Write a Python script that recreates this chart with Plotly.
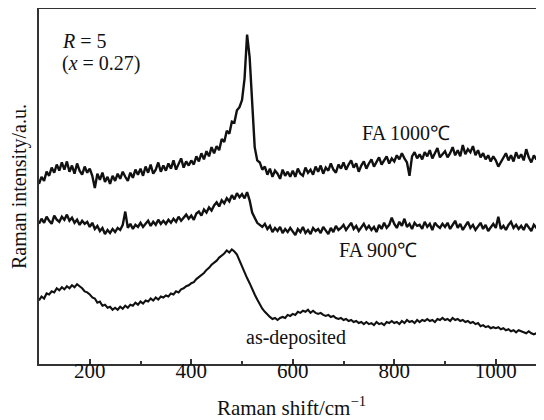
import plotly.graph_objects as go

# Raman shift sampling positions (cm^-1)
shift = list(range(100, 1100, 5))

# Relative intensities (arbitrary units, offset traces)
fa1000 = [
    176, 183, 179, 188, 184, 192, 187, 195, 189, 197,
    190, 198, 188, 194, 186, 196, 189, 185, 193, 187,
    191, 184, 172, 186, 180, 187, 178, 183, 176, 184,
    179, 186, 181, 188, 183, 179, 187, 182, 190, 185,
    191, 184, 193, 187, 195, 186, 190, 197, 188, 194,
    189, 196, 191, 199, 190, 195, 201, 192, 198, 194,
    199, 195, 203, 198, 206, 200, 208, 203, 212, 206,
    213, 209, 220, 217, 228, 225, 237, 236, 248, 251,
    258, 279, 322, 300, 249, 212, 199, 197, 190, 193,
    185, 191, 183, 189, 186, 181, 190, 184, 188, 183,
    189, 183, 191, 186, 184, 192, 187, 190, 185, 193,
    188, 194, 186, 192, 189, 196, 190, 187, 195, 191,
    197, 190, 195, 199, 192, 196, 188, 194, 198, 191,
    196, 200, 193, 198, 202, 195, 199, 203, 196, 201,
    198, 204, 200, 206, 201, 197, 184, 203, 207, 201,
    205, 200, 207, 203, 209, 201, 206, 211, 202, 205,
    208, 202, 206, 212, 204, 209, 203, 214, 205, 210,
    207, 213, 204, 209, 202, 206, 200, 204, 198, 203,
    199, 193, 197, 202, 206, 199, 204, 198, 207, 201,
    205, 199, 210, 202, 197, 204, 200, 206, 198, 203,
]

fa900 = [
    137, 142, 138, 144, 140, 137, 145, 141, 139, 144,
    141, 146, 140, 143, 138, 141, 136, 140, 137, 139,
    134, 138, 132, 135, 130, 133, 127, 131, 128, 132,
    129, 133, 131, 136, 149, 133, 137, 132, 136, 134,
    138, 134, 137, 140, 135, 139, 136, 141, 137, 140,
    137, 141, 138, 142, 139, 144, 140, 143, 146, 142,
    145, 141, 147, 149, 145, 151, 148, 153, 150, 155,
    158, 154, 160, 157, 162, 159, 165, 161, 167, 163,
    166, 162, 168, 160, 148, 143, 138, 136, 134, 137,
    132, 135, 129, 133, 130, 134, 128, 132, 129, 133,
    130, 126, 132, 129, 134, 128, 131, 127, 133, 130,
    132, 128, 134, 130, 127, 133, 129, 135, 131, 133,
    136, 131, 134, 138, 132, 135, 130, 134, 137, 132,
    135, 131, 134, 129, 136, 132, 138, 133, 136, 143,
    137, 133, 139, 135, 142, 134, 137, 132, 138, 135,
    136, 132, 139, 134, 137, 131, 138, 135, 133, 137,
    134, 138, 132, 136, 140, 133, 137, 131, 135, 139,
    133, 136, 131, 135, 138, 132, 136, 130, 134, 137,
    133, 144, 132, 135, 131, 136, 139, 133, 136, 132,
    135, 131, 137, 134, 130, 136, 133, 138, 132, 135,
]

as_deposited = [
    62, 66, 64, 69, 68, 71, 70, 74, 72, 75,
    73, 76, 74, 77, 75, 78, 76, 74, 71, 70,
    68, 65, 64, 60, 61, 57, 58, 55, 56, 53,
    55, 53, 56, 54, 57, 55, 58, 57, 60, 58,
    61, 59, 62, 61, 64, 62, 65, 63, 66, 65,
    67, 66, 69, 68, 71, 70, 73, 74, 76, 77,
    79, 80, 83, 85, 87, 89, 92, 94, 97, 99,
    101, 104, 106, 108, 111, 109, 112, 110, 107, 101,
    95, 90, 84, 79, 73, 68, 63, 58, 54, 51,
    48, 46, 44, 45, 43, 45, 46, 45, 48, 47,
    49, 48, 51, 50, 52, 51, 53, 50, 52, 50,
    49, 50, 48, 47, 48, 46, 47, 45, 44, 45,
    43, 44, 42, 43, 41, 42, 40, 41, 39, 41,
    39, 40, 38, 41, 39, 40, 38, 41, 40, 42,
    40, 41, 39, 42, 40, 43, 41, 42, 40, 43,
    41, 43, 42, 44, 42, 43, 41, 44, 43, 45,
    43, 44, 42, 45, 43, 44, 42, 43, 41, 42,
    40, 41, 39, 40, 37, 38, 36, 37, 35, 36,
    35, 36, 34, 35, 33, 34, 32, 33, 31, 33,
    32, 31, 30, 32, 30, 29, 30, 28, 29, 27,
]

series_names = ["FA 1000℃", "FA 900℃", "as-deposited"]
series_widths = [2.4, 2.4, 2.1]
# label anchor positions (shift, intensity) for each curve label
label_x = [823, 768, 606]
label_y = [226, 111, 26]

FONT = "Liberation Serif"
INK = "#111111"

fig = go.Figure()
for name, ys, w in zip(series_names, [fa1000, fa900, as_deposited], series_widths):
    fig.add_trace(go.Scatter(
        x=shift, y=ys, mode="lines", name=name,
        line=dict(color=INK, width=w),
        showlegend=False,
    ))

for name, lx, ly in zip(series_names, label_x, label_y):
    fig.add_annotation(x=lx, y=ly, text=name, showarrow=False,
                       font=dict(family=FONT, size=20, color=INK),
                       xanchor="center", yanchor="middle")

fig.add_annotation(x=141, y=316, text="<i>R</i> = 5", showarrow=False,
                   font=dict(family=FONT, size=20, color=INK),
                   xanchor="left", yanchor="middle")
fig.add_annotation(x=141, y=294, text="(<i>x</i> = 0.27)", showarrow=False,
                   font=dict(family=FONT, size=20, color=INK),
                   xanchor="left", yanchor="middle")

# the page body adds an 8 px margin, so the figure is sized 8 px smaller
fig.update_layout(
    width=536, height=412,
    margin=dict(l=31, r=0, t=1, b=56),
    paper_bgcolor="white", plot_bgcolor="white",
    font=dict(family=FONT, size=20, color=INK),
    xaxis=dict(
        range=[100, 1095], tick0=0, dtick=200, automargin=False,
        ticks="inside", ticklen=5, tickwidth=1.5, tickcolor="#333333",
        minor=dict(dtick=100, ticks="inside", ticklen=3, tickwidth=1.5, tickcolor="#333333"),
        showline=True, linecolor="#333333", linewidth=2, mirror=True,
        showgrid=False, zeroline=False,
        ticklabelstandoff=-13,
        tickfont=dict(family=FONT, size=21, color=INK),
        title=dict(text="Raman shift/cm<sup>−1</sup>", standoff=18,
                   font=dict(family=FONT, size=21, color=INK)),
    ),
    yaxis=dict(
        range=[0, 347], showticklabels=False, ticks="", automargin=False,
        showline=True, linecolor="#333333", linewidth=2, mirror=False,
        showgrid=False, zeroline=False,
        title=dict(text="Raman intensity/a.u.", standoff=16,
                   font=dict(family=FONT, size=20, color=INK)),
    ),
)

fig.write_html("out.html")
